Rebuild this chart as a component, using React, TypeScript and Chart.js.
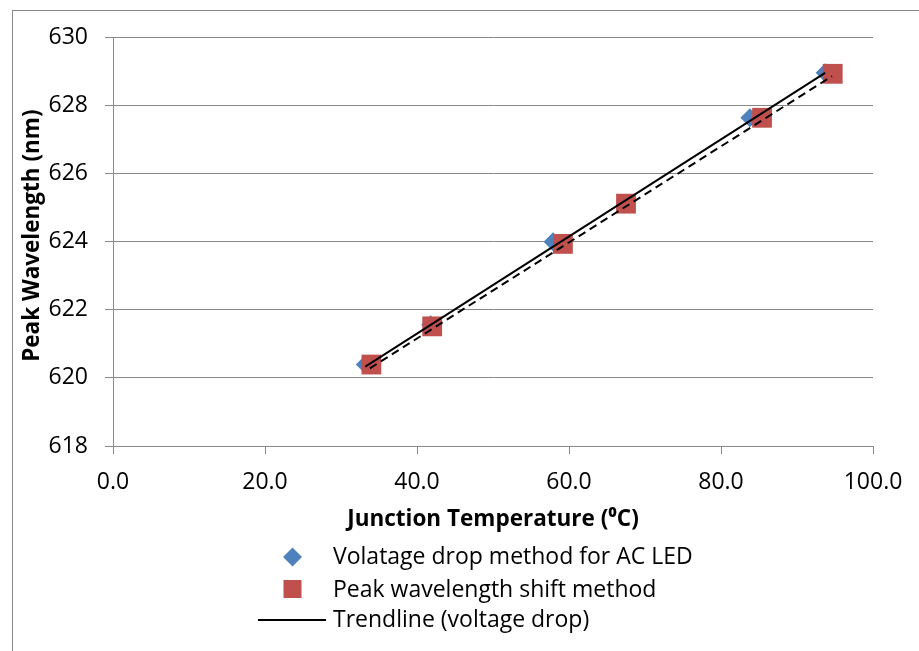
import React, { useEffect, useRef } from 'react';
import { Chart, registerables } from 'chart.js';

Chart.register(...registerables);

// ---- data ----
const voltageDropTemp = [33.2, 41.8, 57.9, 83.8, 93.7];
const voltageDropWl = [620.39, 621.56, 623.99, 627.63, 628.95];
const shiftTemp = [34.0, 42.0, 59.2, 67.5, 85.4, 94.7];
const shiftWl = [620.39, 621.51, 623.93, 625.11, 627.63, 628.92];
const trendVoltageTemp = [33.2, 93.7];
const trendVoltageWl = [620.33, 628.95];
const trendShiftTemp = [33.8, 94.6];
const trendShiftWl = [620.28, 628.85];

const seriesNames = [
  'Volatage drop method for AC LED',
  'Peak wavelength shift method',
  'Trendline (voltage drop)',
];
const xTitle = 'Junction Temperature (\u2070C)';
const yTitle = 'Peak Wavelength (nm)';

const FONT = "'Open Sans', sans-serif";
const BLUE = '#4F81BD';
const RED = '#C0504D';
const GRID = '#888888';

const pts = (xs: number[], ys: number[]) => xs.map((x, i) => ({ x, y: ys[i] }));

const legendPlugin = {
  id: 'customLegend',
  afterDraw(chart: any) {
    const ctx = chart.ctx;
    ctx.save();
    ctx.font = `23px ${FONT}`;
    ctx.textBaseline = 'alphabetic';
    ctx.textAlign = 'left';
    const mx = 292.5;
    // diamond
    ctx.fillStyle = BLUE;
    ctx.beginPath();
    ctx.moveTo(mx, 557 - 9.5);
    ctx.lineTo(mx + 9.5, 557);
    ctx.lineTo(mx, 557 + 9.5);
    ctx.lineTo(mx - 9.5, 557);
    ctx.closePath();
    ctx.fill();
    // square
    ctx.fillStyle = RED;
    ctx.fillRect(mx - 9, 589 - 9, 18, 18);
    // line
    ctx.strokeStyle = '#000';
    ctx.lineWidth = 2;
    ctx.beginPath();
    ctx.moveTo(258, 620);
    ctx.lineTo(326, 620);
    ctx.stroke();
    ctx.fillStyle = '#000';
    ctx.fillText(seriesNames[0], 333, 564);
    ctx.fillText(seriesNames[1], 333, 597);
    ctx.fillText(seriesNames[2], 333, 627);
    ctx.restore();
  },
};

export default function App() {
  const ref = useRef<HTMLCanvasElement>(null);
  useEffect(() => {
    if (!ref.current) return;
    const chart = new Chart(ref.current, {
      type: 'scatter',
      data: {
        datasets: [
          {
            label: seriesNames[0],
            data: pts(voltageDropTemp, voltageDropWl),
            pointStyle: 'rectRot',
            pointRadius: 9.5,
            backgroundColor: BLUE,
            borderColor: BLUE,
            borderWidth: 0,
            order: 3,
          },
          {
            label: seriesNames[1],
            data: pts(shiftTemp, shiftWl),
            pointStyle: 'rect',
            pointRadius: 14,
            backgroundColor: RED,
            borderColor: RED,
            borderWidth: 0,
            order: 2,
          },
          {
            label: seriesNames[2],
            data: pts(trendVoltageTemp, trendVoltageWl),
            showLine: true,
            pointRadius: 0,
            borderColor: '#000',
            borderWidth: 2,
            order: 1,
          },
          {
            label: 'Trendline (wavelength shift)',
            data: pts(trendShiftTemp, trendShiftWl),
            showLine: true,
            pointRadius: 0,
            borderColor: '#000',
            borderWidth: 2,
            borderDash: [8, 5],
            order: 0,
          },
        ],
      },
      options: {
        responsive: false,
        animation: false,
        events: [],
        layout: { padding: { left: 0, top: 37, right: 46, bottom: 117.5 } },
        plugins: { legend: { display: false }, tooltip: { enabled: false } },
        scales: {
          x: {
            type: 'linear',
            min: 0,
            max: 100,
            ticks: {
              stepSize: 20,
              padding: 15,
              color: '#000',
              font: { family: FONT, size: 23 },
              callback: (v: any) => Number(v).toFixed(1),
            },
            grid: { drawOnChartArea: false, drawTicks: true, tickLength: 8, color: GRID, lineWidth: 1 },
            border: { display: true, color: GRID, width: 1 },
            title: {
              display: true,
              text: xTitle,
              color: '#000',
              font: { family: FONT, size: 22.5, weight: 'bold' },
              padding: 0,
            },
            afterFit: (s: any) => { s.height = 87.5; },
          },
          y: {
            type: 'linear',
            min: 618,
            max: 630,
            ticks: {
              stepSize: 2,
              padding: 17,
              color: '#000',
              font: { family: FONT, size: 23 },
            },
            grid: { drawOnChartArea: true, drawTicks: true, tickLength: 8, color: GRID, lineWidth: 1 },
            border: { display: true, color: GRID, width: 1 },
            title: {
              display: true,
              text: '  ' + yTitle,
              color: '#000',
              font: { family: FONT, size: 22.5, weight: 'bold' },
              padding: { top: 19.5, bottom: 0 },
            },
            afterFit: (s: any) => { s.width = 113; },
          },
        },
      },
      plugins: [legendPlugin],
    } as any);
    return () => chart.destroy();
  }, []);

  return (
    <div style={{ position: 'absolute', left: 0, top: 0, width: 919, height: 651, overflow: 'hidden', background: '#fff' }}>
      <div style={{ position: 'absolute', left: 12, top: 10, width: 930, height: 660, border: '1px solid #888', boxSizing: 'border-box' }} />
      <canvas ref={ref} width={919} height={651} style={{ position: 'absolute', left: 0, top: 0 }} />
    </div>
  );
}
